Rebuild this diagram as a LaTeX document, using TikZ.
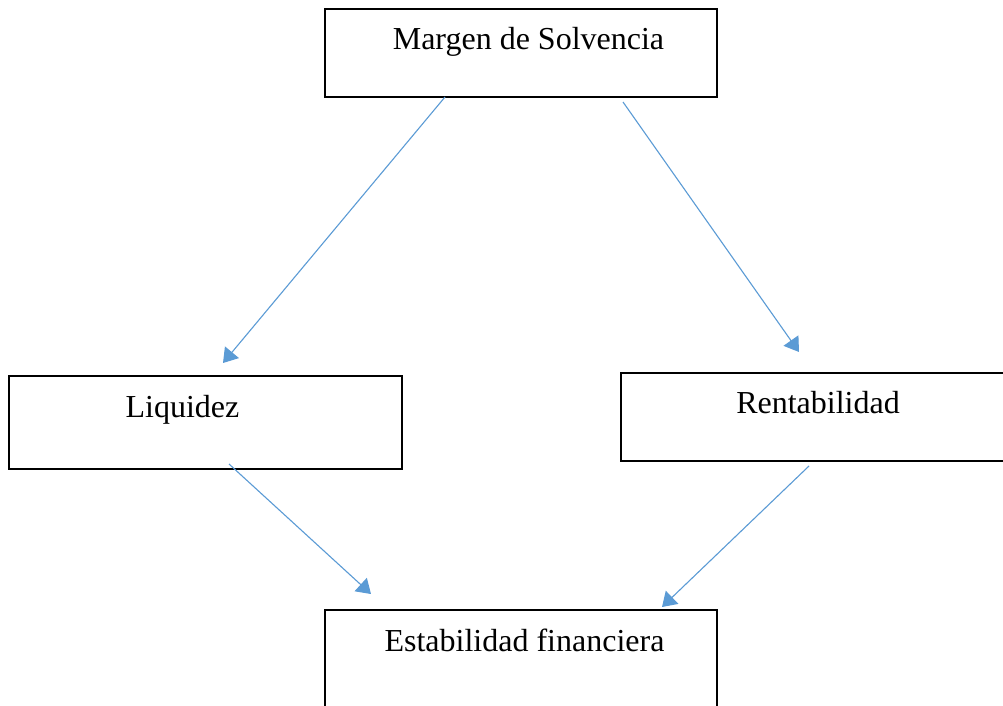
\documentclass[tikz,border=0pt]{standalone}
\usepackage{fontspec}
\setmainfont{Liberation Serif}
\usetikzlibrary{arrows.meta}
\definecolor{arrowblue}{RGB}{91,155,213}
\tikzset{
  box/.style={draw=black, line width=2pt},
  lbl/.style={font=\fontsize{32}{38}\selectfont, anchor=base, inner sep=0pt},
  conn/.style={draw=arrowblue, line width=1.1pt, -{Triangle[length=14pt,width=18pt]}},
}
\begin{document}
\begin{tikzpicture}[x=1pt,y=-1pt]
\useasboundingbox (0,0) rectangle (1003,706);
\clip (0,0) rectangle (1003,706);
\fill[white] (0,0) rectangle (1003,706);
% boxes
\node[box, inner sep=0pt, minimum width=392pt, minimum height=88pt] (top) at (520.5,53) {};
\node[box, inner sep=0pt, minimum width=393pt, minimum height=93pt] (liq) at (205.5,422.5) {};
\node[box, inner sep=0pt, minimum width=400pt, minimum height=88pt] (ren) at (821,417) {};
\node[box, inner sep=0pt, minimum width=392pt, minimum height=110pt] (est) at (521,665) {};
% labels
\node[lbl] (ttop) at (528.5,50) {Margen de Solvencia};
\node[lbl] (tliq) at (182.5,417) {Liquidez};
\node[lbl] (tren) at (818,413) {Rentabilidad};
\node[lbl] (test) at (524.5,651) {Estabilidad financiera};
% connector ends
\coordinate (a1s) at (445,97);
\coordinate (a1e) at (223,363);
\coordinate (a2s) at (623,102);
\coordinate (a2e) at (799,352);
\coordinate (a3s) at (229,464);
\coordinate (a3e) at (371,594);
\coordinate (a4s) at (809,466);
\coordinate (a4e) at (662,607);
\draw[conn] (a1s) -- (a1e);
\draw[conn] (a2s) -- (a2e);
\draw[conn] (a3s) -- (a3e);
\draw[conn] (a4s) -- (a4e);
\end{tikzpicture}
\end{document}
